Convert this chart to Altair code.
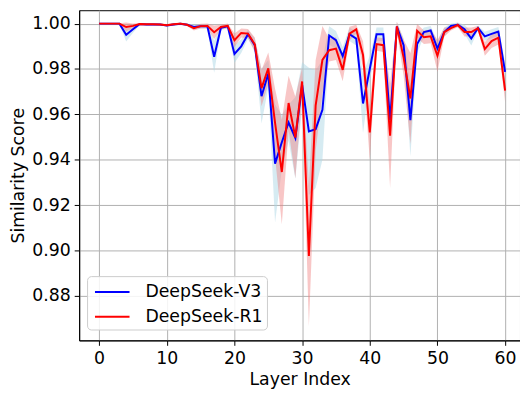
import altair as alt
import pandas as pd

layers = list(range(61))

v3_mean = [1.0, 1.0, 1.0, 1.0, 0.9951, 0.9975, 0.9998, 0.9996, 0.9996, 0.9996,
           0.9992, 0.9996, 0.9999, 0.9995, 0.9985, 0.9988, 0.9988, 0.9854, 0.9982, 0.9988,
           0.9866, 0.9900, 0.9953, 0.9905, 0.9680, 0.9780, 0.9383, 0.9477, 0.9564, 0.9496,
           0.9730, 0.9525, 0.9535, 0.9620, 0.9948, 0.9927, 0.9857, 0.9953, 0.9934, 0.9648,
           0.9800, 0.9953, 0.9953, 0.9575, 0.9987, 0.9905, 0.9575, 0.9910, 0.9963, 0.9970,
           0.9890, 0.9963, 0.9990, 0.9995, 0.9975, 0.9934, 0.9981, 0.9944, 0.9955, 0.9965,
           0.9787]
v3_std = [0.0002, 0.0002, 0.0002, 0.0002, 0.003, 0.0015, 0.0005, 0.0005, 0.0005, 0.0005,
          0.0005, 0.0005, 0.0005, 0.0005, 0.001, 0.001, 0.001, 0.007, 0.001, 0.001,
          0.004, 0.003, 0.002, 0.003, 0.012, 0.006, 0.026, 0.012, 0.008, 0.018,
          0.010, 0.028, 0.026, 0.022, 0.004, 0.004, 0.004, 0.003, 0.003, 0.013,
          0.006, 0.003, 0.003, 0.008, 0.002, 0.003, 0.016, 0.004, 0.002, 0.002,
          0.003, 0.002, 0.001, 0.001, 0.002, 0.003, 0.001, 0.002, 0.002, 0.002,
          0.004]

r1_mean = [1.0, 1.0, 1.0, 1.0, 0.9985, 0.9990, 0.9998, 0.9997, 0.9997, 0.9996,
           0.9993, 0.9997, 1.0, 0.9995, 0.9980, 0.9989, 0.9990, 0.9962, 0.9985, 0.9990,
           0.9927, 0.9959, 0.9956, 0.9909, 0.9716, 0.9803, 0.9563, 0.9346, 0.9650, 0.9498,
           0.9745, 0.8976, 0.9640, 0.9840, 0.9883, 0.9890, 0.9796, 0.9956, 0.9975, 0.9862,
           0.9520, 0.9910, 0.9905, 0.9506, 0.9988, 0.9850, 0.9670, 0.9968, 0.9940, 0.9944,
           0.9858, 0.9962, 0.9980, 0.9994, 0.9963, 0.9963, 0.9980, 0.9888, 0.9923, 0.9938,
           0.9705]
r1_std = [0.0002, 0.0002, 0.0002, 0.0002, 0.002, 0.001, 0.0005, 0.0005, 0.0005, 0.0005,
          0.0005, 0.0005, 0.0005, 0.0005, 0.001, 0.001, 0.001, 0.003, 0.001, 0.001,
          0.003, 0.002, 0.002, 0.003, 0.008, 0.007, 0.015, 0.023, 0.012, 0.018,
          0.006, 0.031, 0.020, 0.015, 0.005, 0.005, 0.005, 0.003, 0.002, 0.006,
          0.012, 0.003, 0.003, 0.023, 0.002, 0.008, 0.020, 0.003, 0.003, 0.003,
          0.007, 0.002, 0.001, 0.001, 0.002, 0.002, 0.001, 0.003, 0.003, 0.003,
          0.005]

models = ["DeepSeek-V3", "DeepSeek-R1"]
line_colors = ["#0000ff", "#ff0000"]
band_colors = ["#add8e6", "#f08080"]

rows = []
for name, mean, std in [(models[0], v3_mean, v3_std), (models[1], r1_mean, r1_std)]:
    for i, m, s in zip(layers, mean, std):
        rows.append({"layer": i, "model": name, "mean": m, "lo": m - s, "hi": m + s})
df = pd.DataFrame(rows)

FONT = "DejaVu Sans"

x = alt.X("layer:Q", title="Layer Index",
          scale=alt.Scale(domain=[-2.95, 62.2], nice=False, zero=False),
          axis=alt.Axis(values=[0, 10, 20, 30, 40, 50, 60], format="d"))
y_scale = alt.Scale(domain=[0.8604, 1.0059], nice=False, zero=False)
y_axis = alt.Axis(values=[0.88, 0.90, 0.92, 0.94, 0.96, 0.98, 1.00], format=".2f")


def band(name, colour, opacity):
    return alt.Chart(df).transform_filter(alt.datum.model == name).mark_area(
        opacity=opacity, interpolate="linear"
    ).encode(
        x=x,
        y=alt.Y("lo:Q", title="Similarity Score", scale=y_scale, axis=y_axis),
        y2="hi:Q",
        fill=alt.value(colour),
    )


lines = alt.Chart(df).mark_line(strokeWidth=2).encode(
    x=x,
    y=alt.Y("mean:Q", scale=y_scale, title="Similarity Score", axis=y_axis),
    color=alt.Color("model:N", scale=alt.Scale(domain=models, range=line_colors),
                    sort=models,
                    legend=alt.Legend(title=None, orient="none", legendX=8, legendY=269,
                                      symbolType="M-0.727,0H2.45", symbolStrokeWidth=2,
                                      symbolSize=484, labelFontSize=17.5, labelFont=FONT,
                                      labelOffset=31, padding=4, rowPadding=4,
                                      fillColor="rgba(255,255,255,0.85)",
                                      strokeColor="#cccccc", cornerRadius=4,
                                      labelColor="black")),
)

chart = alt.layer(
    band(models[0], band_colors[0], 0.5),
    band(models[1], band_colors[1], 0.45),
    lines,
).properties(
    width=446, height=334,
    autosize=alt.AutoSizeParams(type="none"),
    padding={"left": 72, "top": 0, "right": 0, "bottom": 52},
    background="white",
).configure_view(
    stroke="black", strokeWidth=1
).configure_axis(
    grid=True, gridColor="#b0b0b0", gridWidth=1,
    domainColor="black", tickColor="black", tickSize=5, tickWidth=1,
    labelColor="black", titleColor="black",
    labelFont=FONT, titleFont=FONT, labelFontSize=17.5, titleFontSize=17.5,
    titleFontWeight="normal", labelPadding=4,
).configure_axisX(titlePadding=4).configure_axisY(titlePadding=4)

chart.save("out.html", embed_options={"renderer": "svg", "actions": False})
